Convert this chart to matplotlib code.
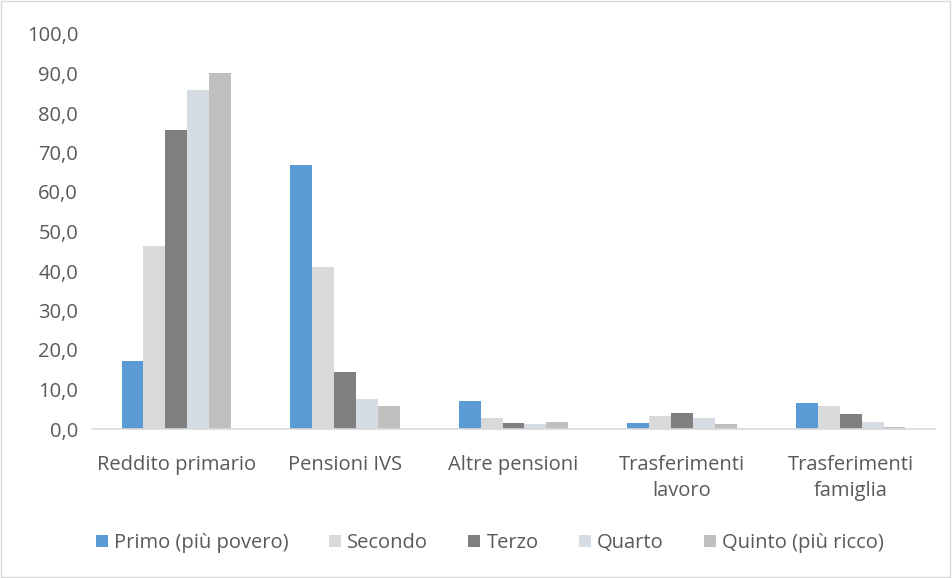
import matplotlib.pyplot as plt
import numpy as np

categories = ['Reddito primario', 'Pensioni IVS', 'Altre pensioni',
              'Trasferimenti\nlavoro', 'Trasferimenti\nfamiglia']
series = ['Primo (più povero)', 'Secondo', 'Terzo', 'Quarto', 'Quinto (più ricco)']
primo = [17.2, 66.8, 7.1, 1.4, 6.6]
secondo = [46.3, 40.9, 2.7, 3.3, 5.8]
terzo = [75.7, 14.4, 1.5, 4.0, 3.9]
quarto = [85.8, 7.5, 1.3, 2.8, 1.8]
quinto = [90.2, 5.7, 1.8, 1.3, 0.5]
values = [primo, secondo, terzo, quarto, quinto]

colors = ['#5B9BD5', '#D9D9D9', '#7F7F7F', '#D6DCE4', '#BFBFBF']
text_color = '#595959'

plt.rcParams['font.family'] = ['Open Sans', 'DejaVu Sans']

fig = plt.figure(figsize=(9.52, 5.78), dpi=100)
ax = fig.add_axes([92 / 952, 1 - 429 / 578, (935 - 92) / 952, (429 - 34) / 578])

x = np.arange(len(categories))
w = 0.13
for i, vals in enumerate(values):
    ax.bar(x + (i - 2) * w, vals, width=w, color=colors[i], label=series[i])

ax.set_xlim(-0.5, len(categories) - 0.5)
ax.set_ylim(0, 100)
ax.set_yticks(np.arange(0, 101, 10))
ax.set_yticklabels([f'{v:.1f}'.replace('.', ',') for v in np.arange(0, 101, 10)])
ax.set_xticks(x)
ax.set_xticklabels(categories, linespacing=1.4)

for s in ['top', 'right', 'left']:
    ax.spines[s].set_visible(False)
ax.spines['bottom'].set_color('#D9D9D9')
ax.spines['bottom'].set_linewidth(1.2)
ax.tick_params(axis='both', length=0, colors=text_color)
ax.tick_params(axis='y', labelsize=14.5, pad=10)
ax.tick_params(axis='x', labelsize=14.5, pad=19)

ax.legend(loc='center', bbox_to_anchor=(0.472, -0.289), ncol=5, frameon=False,
          fontsize=14.5, labelcolor=text_color, handlelength=0.6, handleheight=0.6,
          handletextpad=0.3, columnspacing=2.0)

# light frame around the chart
fig.patches.append(plt.Rectangle((0.001, 0.001), 0.997, 0.997, transform=fig.transFigure,
                                 fill=False, edgecolor='#D9D9D9', linewidth=1))

fig.savefig('out.png', dpi=100)
